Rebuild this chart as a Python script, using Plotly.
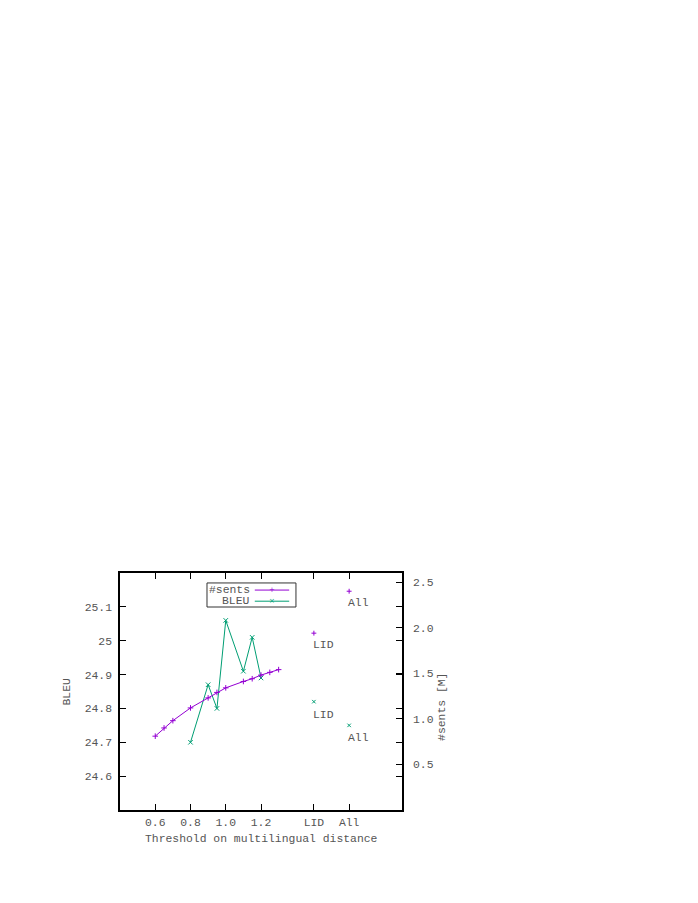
import plotly.graph_objects as go

# threshold runs
sents_thr = [0.6, 0.65, 0.7, 0.8, 0.9, 0.95, 1.0, 1.1, 1.15, 1.2, 1.25, 1.3]
sents_m = [0.81, 0.90, 0.98, 1.12, 1.23, 1.29, 1.34, 1.41, 1.44, 1.48, 1.51, 1.54]

bleu_thr = [0.8, 0.9, 0.95, 1.0, 1.1, 1.15, 1.2]
bleu = [24.70, 24.87, 24.80, 25.06, 24.91, 25.01, 24.89]

# baselines, shown as extra categories on the x axis
base_names = ["LID", "All"]
base_pos = [1.5, 1.7]
base_sents = [1.94, 2.40]
base_bleu = [24.82, 24.75]

x_ticks = [0.6, 0.8, 1.0, 1.2] + base_pos
x_labels = ["0.6", "0.8", "1.0", "1.2"] + base_names
y_ticks = [24.6, 24.7, 24.8, 24.9, 25.0, 25.1]
y_labels = ["24.6", "24.7", "24.8", "24.9", "25", "25.1"]
y2_ticks = [0.5, 1.0, 1.5, 2.0, 2.5]
y2_labels = ["0.5", "1.0", "1.5", "2.0", "2.5"]

PURPLE = "#9400D3"
GREEN = "#009E73"
FONT = dict(family="Liberation Mono, Courier New, monospace", size=11.4, color="#555555")

fig = go.Figure()
fig.add_trace(go.Scatter(
    x=sents_thr, y=sents_m, yaxis="y2", mode="lines+markers",
    line=dict(color=PURPLE, width=1),
    marker=dict(symbol="cross-thin", size=4, line=dict(color=PURPLE, width=1)),
))
fig.add_trace(go.Scatter(
    x=bleu_thr, y=bleu, mode="lines+markers",
    line=dict(color=GREEN, width=1),
    marker=dict(symbol="x-thin", size=4.5, line=dict(color=GREEN, width=1)),
))
fig.add_trace(go.Scatter(
    x=base_pos, y=base_sents, yaxis="y2", mode="markers",
    marker=dict(symbol="cross-thin", size=3.5, line=dict(color=PURPLE, width=1)),
))
fig.add_trace(go.Scatter(
    x=base_pos, y=base_bleu, mode="markers",
    marker=dict(symbol="x-thin", size=3.5, line=dict(color=GREEN, width=1)),
))

# point labels under the baseline points
for name, xp, s, b in zip(base_names, base_pos, base_sents, base_bleu):
    fig.add_annotation(x=xp, y=s, yref="y2", text=name, showarrow=False,
                       xanchor="left", yanchor="top", xshift=-3, yshift=-4, font=FONT)
    fig.add_annotation(x=xp, y=b, yref="y", text=name, showarrow=False,
                       xanchor="left", yanchor="top", xshift=-3, yshift=-5, font=FONT)

# gnuplot-style key: text on the left, sample on the right
fig.add_shape(type="rect", xref="paper", yref="paper",
              x0=0.3085, x1=0.624, y0=0.8565, y1=0.958,
              line=dict(color="#333333", width=1))
for i, (name, col, sym) in enumerate([("#sents", PURPLE, "+"), ("BLEU", GREEN, "×")]):
    yy = 0.928 - i * 0.047
    fig.add_annotation(xref="paper", yref="paper", x=0.468, y=yy, text=name,
                       showarrow=False, xanchor="right", yanchor="middle", font=FONT)
    fig.add_shape(type="line", xref="paper", yref="paper", x0=0.478, x1=0.600,
                  y0=yy, y1=yy, line=dict(color=col, width=1))
    fig.add_annotation(xref="paper", yref="paper", x=0.539, y=yy, text=sym,
                       showarrow=False, xanchor="center", yanchor="middle",
                       font=dict(family="DejaVu Sans", size=7, color=col))

fig.add_annotation(xref="paper", yref="paper", x=-0.188, y=0.5, text="BLEU",
                   textangle=-90, showarrow=False, xanchor="center", font=FONT)
fig.add_annotation(xref="paper", yref="paper", x=1.142, y=0.435, text="#sents [M]",
                   textangle=-90, showarrow=False, xanchor="center", font=FONT)
fig.add_annotation(xref="paper", yref="paper", x=0.5, y=-0.122, text="Threshold on multilingual distance",
                   showarrow=False, yanchor="middle", font=FONT)

axis_common = dict(showgrid=False, zeroline=False, ticks="inside", ticklen=6,
                   tickcolor="black", tickfont=FONT)
fig.update_layout(
    width=698, height=903,
    margin=dict(l=112, r=304, t=565, b=101),
    paper_bgcolor="white", plot_bgcolor="white",
    showlegend=False, font=FONT,
    xaxis=dict(range=[0.4, 2.0], tickvals=x_ticks, ticktext=x_labels,
               showline=True, linecolor="black", linewidth=1.5, mirror="ticks",
               ticklabelstandoff=1, **axis_common),
    yaxis=dict(range=[24.5, 25.2], tickvals=y_ticks, ticktext=y_labels,
               showline=True, linecolor="black", linewidth=1.5, mirror="ticks",
               ticklabelstandoff=4, **axis_common),
    yaxis2=dict(range=[0, 2.6], tickvals=y2_ticks, ticktext=y2_labels,
                overlaying="y", side="right", showline=False,
                ticklabelstandoff=10, **axis_common),
)

fig.write_html("out.html")
